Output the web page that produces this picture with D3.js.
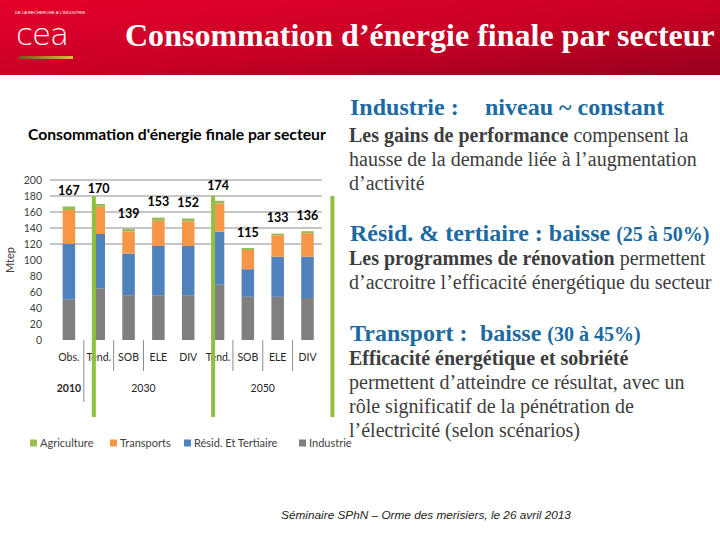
<!DOCTYPE html>
<html>
<head>
<meta charset="utf-8">
<script src="https://cdn.jsdelivr.net/npm/d3@7"></script>
<style>
  body { margin: 0; background: #fff; }
  svg text { white-space: pre; }
</style>
</head>
<body>
<div id="wrapper"></div>
<script>
// chart values (Mtep)
const categories = ["Obs.", "Tend.", "SOB", "ELE", "DIV", "Tend.", "SOB", "ELE", "DIV"]
const years = ["2010", "2030", "2030", "2030", "2030", "2050", "2050", "2050", "2050"]
const industrie = [51, 64.5, 56, 56, 56, 69.5, 54, 54, 52.5]
const residTertiaire = [69, 68, 52, 61.5, 61.5, 66, 34.5, 50, 51.5]
const transports = [42.5, 34, 27.5, 31.5, 31, 35, 24, 27, 29.5]
const agriculture = [4.5, 3.5, 3.5, 4, 3.5, 3.5, 2.5, 2, 2.5]
const yTicks = [0, 20, 40, 60, 80, 100, 120, 140, 160, 180, 200]
const sectors = ["Agriculture", "Transports", "Résid. Et Tertiaire", "Industrie"]
const sectorColors = ["#9bbb59", "#f79646", "#4f81bd", "#7f7f7f"]

const dataset = categories.map((c, i) => ({
  key: i,
  cat: c,
  year: years[i],
  "Industrie": industrie[i],
  "Résid. Et Tertiaire": residTertiaire[i],
  "Transports": transports[i],
  "Agriculture": agriculture[i]
}))
const totalAccessor = d => d.Industrie + d["Résid. Et Tertiaire"] + d.Transports + d.Agriculture
const colorScale = d3.scaleOrdinal().domain(sectors).range(sectorColors)

const chartFont = "Lato, 'Open Sans', sans-serif"
const serif = "'Liberation Serif', 'Times New Roman', serif"

const width = 720
const height = 540

const svg = d3.select("#wrapper")
  .append("svg")
    .attr("width", width)
    .attr("height", height)

const fitWidth = (sel, w) => {
  const len = sel.node().getComputedTextLength()
  const fs = parseFloat(sel.attr("font-size"))
  sel.attr("font-size", fs * w / len)
}

// ---- header band
const defs = svg.append("defs")
const bandGrad = defs.append("linearGradient")
    .attr("id", "band").attr("x1", "0").attr("y1", "0").attr("x2", "1").attr("y2", "1")
bandGrad.append("stop").attr("offset", "0%").attr("stop-color", "#e4002b")
bandGrad.append("stop").attr("offset", "55%").attr("stop-color", "#c80026")
bandGrad.append("stop").attr("offset", "100%").attr("stop-color", "#96001b")
const goldGrad = defs.append("linearGradient").attr("id", "gold")
goldGrad.append("stop").attr("offset", "0%").attr("stop-color", "#6e5a1e")
goldGrad.append("stop").attr("offset", "100%").attr("stop-color", "#e2bd3c")

svg.append("rect")
    .attr("width", width).attr("height", 75)
    .attr("fill", "url(#band)")

svg.append("text")
    .attr("x", 15).attr("y", 14)
    .attr("font-family", "'Liberation Sans', sans-serif")
    .attr("font-size", 4.2)
    .attr("fill", "#fff")
    .text("DE LA RECHERCHE À L’INDUSTRIE")

svg.append("text")
    .attr("x", 16).attr("y", 45)
    .attr("font-family", "'DejaVu Sans', sans-serif")
    .attr("font-weight", 200)
    .attr("font-size", 31)
    .attr("letter-spacing", -1)
    .attr("fill", "#fff")
    .text("cea")

svg.append("rect")
    .attr("x", 19).attr("y", 56).attr("width", 54).attr("height", 3)
    .attr("fill", "url(#gold)")

const mainTitle = svg.append("text")
    .attr("x", 125).attr("y", 46)
    .attr("font-family", serif)
    .attr("font-weight", "bold")
    .attr("font-size", 30)
    .attr("fill", "#fff")
    .text("Consommation d’énergie finale par secteur")
fitWidth(mainTitle, 590)

// ---- chart
const xScale = d3.scaleBand()
    .domain(dataset.map(d => d.key))
    .range([54, 322.4])
const yScale = d3.scaleLinear()
    .domain([0, 200])
    .range([340, 180])
const barWidth = xScale.bandwidth() * 0.42

const chartTitle = svg.append("text")
    .attr("x", 28).attr("y", 140)
    .attr("font-family", chartFont)
    .attr("font-weight", "bold")
    .attr("font-size", 15)
    .attr("fill", "#000")
    .text("Consommation d'énergie finale par secteur")
fitWidth(chartTitle, 298)

// gridlines (only the upper ones show on the slide)
svg.append("g")
  .selectAll("line")
  .data(yTicks.filter(t => t >= 120))
  .enter().append("line")
    .attr("x1", 50).attr("x2", 322)
    .attr("y1", d => yScale(d)).attr("y2", d => yScale(d))
    .attr("stroke", "#8c8c8c")
    .attr("stroke-width", 1)

const yAxis = svg.append("g")
    .attr("transform", "translate(50,0)")
    .call(d3.axisLeft(yScale).tickValues(yTicks).tickSize(0).tickPadding(8))
yAxis.select(".domain").remove()
yAxis.selectAll("text")
    .attr("font-family", chartFont)
    .attr("font-size", 10.5)
    .attr("fill", "#404040")

svg.append("text")
    .attr("transform", "translate(14,260) rotate(-90)")
    .attr("text-anchor", "middle")
    .attr("font-family", chartFont)
    .attr("font-size", 11)
    .attr("fill", "#404040")
    .text("Mtep")

const stack = d3.stack().keys(["Industrie", "Résid. Et Tertiaire", "Transports", "Agriculture"])
const series = stack(dataset)

svg.append("g")
  .selectAll("g")
  .data(series)
  .enter().append("g")
    .attr("fill", s => colorScale(s.key))
  .selectAll("rect")
  .data(s => s)
  .enter().append("rect")
    .attr("x", d => xScale(d.data.key) + (xScale.bandwidth() - barWidth) / 2)
    .attr("y", d => yScale(d[1]))
    .attr("width", barWidth)
    .attr("height", d => yScale(d[0]) - yScale(d[1]))

svg.append("g")
  .selectAll("text")
  .data(dataset)
  .enter().append("text")
    .attr("x", d => xScale(d.key) + xScale.bandwidth() / 2)
    .attr("y", d => yScale(totalAccessor(d)) - 15.5)
    .attr("dy", "0.35em")
    .attr("text-anchor", "middle")
    .attr("font-family", chartFont)
    .attr("font-weight", "bold")
    .attr("font-size", 12.5)
    .attr("fill", "#000")
    .text(d => Math.round(totalAccessor(d)))

// multi-level category axis
svg.append("g")
  .selectAll("text")
  .data(dataset)
  .enter().append("text")
    .attr("x", d => xScale(d.key) + xScale.bandwidth() / 2)
    .attr("y", 357)
    .attr("dy", "0.35em")
    .attr("text-anchor", "middle")
    .attr("font-family", chartFont)
    .attr("font-size", 10.5)
    .attr("fill", "#262626")
    .text(d => d.cat)

const yearGroups = Array.from(d3.group(dataset, d => d.year), ([year, rows]) => ({
  year,
  x: d3.mean(rows, d => xScale(d.key) + xScale.bandwidth() / 2)
}))
svg.append("g")
  .selectAll("text")
  .data(yearGroups)
  .enter().append("text")
    .attr("x", d => d.x)
    .attr("y", 388)
    .attr("dy", "0.35em")
    .attr("text-anchor", "middle")
    .attr("font-family", chartFont)
    .attr("font-size", 10.5)
    .attr("font-weight", d => d.year === "2010" ? "bold" : "normal")
    .attr("fill", "#262626")
    .text(d => d.year)

const separators = [
  { key: 1, long: true }, { key: 2 }, { key: 3 },
  { key: 6 }, { key: 7 }, { key: 8 }
]
svg.append("g")
  .selectAll("line")
  .data(separators)
  .enter().append("line")
    .attr("x1", d => xScale(d.key)).attr("x2", d => xScale(d.key))
    .attr("y1", 340)
    .attr("y2", d => d.long ? 402 : 371)
    .attr("stroke", "#8c8c8c")

// green marker lines laid over the chart
const markerX = [xScale(1) + 10, xScale(5) + 10, xScale.range()[1] + 10]
svg.append("g")
  .selectAll("line")
  .data(markerX)
  .enter().append("line")
    .attr("x1", d => d).attr("x2", d => d)
    .attr("y1", 196).attr("y2", 417)
    .attr("stroke", "#8fc13e")
    .attr("stroke-width", 4)

// legend
const legendX = [30, 110, 184, 299]
const legend = svg.append("g")
  .selectAll("g")
  .data(sectors)
  .enter().append("g")
    .attr("transform", (d, i) => `translate(${legendX[i]},443)`)
legend.append("rect")
    .attr("x", 0).attr("y", -3.5)
    .attr("width", 7).attr("height", 7)
    .attr("fill", d => colorScale(d))
legend.append("text")
    .attr("x", 10)
    .attr("dy", "0.35em")
    .attr("font-family", chartFont)
    .attr("font-size", 11)
    .attr("fill", "#404040")
    .text(d => d)

// ---- commentary on the right
const blue = "#1c6aa2"
const grey = "#3d3d3d"
const notes = [
  {
    y: 115,
    head: [{ t: "Industrie :", x: 350 }, { t: "niveau ~ constant", x: 485 }],
    body: [
      [["Les gains de performance", true], [" compensent la", false]],
      [["hausse de la demande liée à l’augmentation", false]],
      [["d’activité", false]]
    ]
  },
  {
    y: 241,
    head: [{ t: "Résid. & tertiaire : baisse ", x: 350 }, { t: "(25 à 50%)", small: true }],
    body: [
      [["Les programmes de rénovation", true], [" permettent", false]],
      [["d’accroitre l’efficacité énergétique du secteur", false]]
    ]
  },
  {
    y: 341,
    head: [{ t: "Transport :", x: 350 }, { t: "baisse ", x: 480 }, { t: "(30 à 45%)", small: true }],
    body: [
      [["Efficacité énergétique et sobriété", true]],
      [["permettent d’atteindre ce résultat, avec un", false]],
      [["rôle significatif de la pénétration de", false]],
      [["l’électricité (selon scénarios)", false]]
    ]
  }
]

notes.forEach(note => {
  const head = svg.append("text")
      .attr("y", note.y)
      .attr("font-family", serif)
      .attr("font-weight", "bold")
      .attr("font-size", 24)
      .attr("fill", blue)
  note.head.forEach(p => {
    const ts = head.append("tspan").text(p.t)
    if (p.x !== undefined) ts.attr("x", p.x)
    if (p.small) ts.attr("font-size", 20)
  })
  note.body.forEach((line, i) => {
    const t = svg.append("text")
        .attr("x", 349)
        .attr("y", note.y + 24 * (i + 1) - (note.y === 115 ? -3 : 0))
        .attr("font-family", serif)
        .attr("font-size", 20)
        .attr("fill", grey)
    line.forEach(([txt, bold]) => {
      t.append("tspan")
          .attr("font-weight", bold ? "bold" : "normal")
          .text(txt)
    })
  })
})

// footer
svg.append("text")
    .attr("x", 426).attr("y", 519)
    .attr("text-anchor", "middle")
    .attr("font-family", "'Liberation Sans', Arial, sans-serif")
    .attr("font-style", "italic")
    .attr("font-size", 11.8)
    .attr("fill", "#222")
    .text("Séminaire SPhN – Orme des merisiers, le 26 avril 2013")
</script>
</body>
</html>
